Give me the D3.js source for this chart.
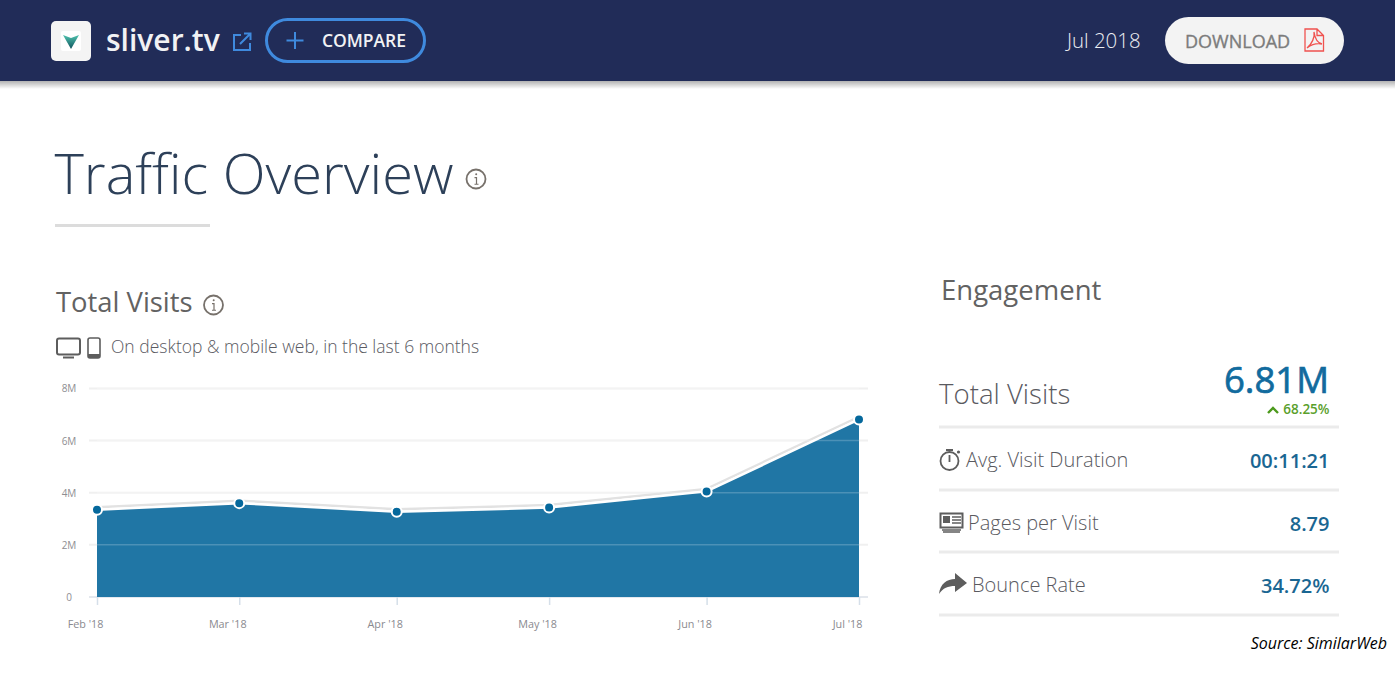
<!DOCTYPE html>
<html>
<head>
<meta charset="utf-8">
<script src="https://cdn.jsdelivr.net/npm/d3@7"></script>
<style>
  html, body { margin: 0; padding: 0; background: #fff; overflow: hidden; }
  text { font-family: "Open Sans", sans-serif; }
</style>
</head>
<body>
<div id="chart"></div>
<script>
// chart data
var months = ["2018-02-01", "2018-03-01", "2018-04-01", "2018-05-01", "2018-06-01", "2018-07-01"];
var visits = [3.35, 3.6, 3.27, 3.43, 4.05, 6.81];
var yTicks = [0, 2, 4, 6, 8];

// engagement table
var rowLabels = ["Avg. Visit Duration", "Pages per Visit", "Bounce Rate"];
var rowValues = ["00:11:21", "8.79", "34.72%"];

var svgWidth = 1395;
var svgHeight = 675;

var parseDate = d3.timeParse("%Y-%m-%d");
var dates = months.map(parseDate);

var svg = d3.select("#chart").append("svg")
  .attr("width", svgWidth)
  .attr("height", svgHeight)
  .style("display", "block");

var defs = svg.append("defs");

var headerShadow = defs.append("linearGradient")
  .attr("id", "headerShadow")
  .attr("x1", 0).attr("y1", 0).attr("x2", 0).attr("y2", 1);
headerShadow.append("stop").attr("offset", "0%").attr("stop-color", "#000").attr("stop-opacity", 0.3);
headerShadow.append("stop").attr("offset", "100%").attr("stop-color", "#000").attr("stop-opacity", 0);

var logoGrad = defs.append("linearGradient")
  .attr("id", "logoGrad")
  .attr("x1", 0).attr("y1", 0).attr("x2", 0).attr("y2", 1);
logoGrad.append("stop").attr("offset", "0%").attr("stop-color", "#4fc3ae");
logoGrad.append("stop").attr("offset", "100%").attr("stop-color", "#11535e");

// header band
svg.append("rect").attr("x", 0).attr("y", 81).attr("width", svgWidth).attr("height", 8)
  .attr("fill", "url(#headerShadow)");
svg.append("rect").attr("x", 0).attr("y", 0).attr("width", svgWidth).attr("height", 81)
  .attr("fill", "#212c58");

// logo
svg.append("rect").attr("x", 51).attr("y", 21).attr("width", 40).attr("height", 40).attr("rx", 5)
  .attr("fill", "#f4f4f4");
svg.append("rect").attr("x", 61).attr("y", 31).attr("width", 20).attr("height", 20).attr("rx", 2)
  .attr("fill", "#fff");
svg.append("path").attr("d", "M63,35 L71,38 L79,35 L71,49 Z").attr("fill", "url(#logoGrad)");

svg.append("text").attr("x", 106).attr("y", 51)
  .attr("font-size", 30).attr("font-weight", 600).attr("fill", "#f1f2f4")
  .text("sliver.tv");

// external link icon
svg.append("path")
  .attr("d", "M241,35 L234,35 L234,50 L250,50 L250,43 M240,44 L250,34 M244,33.5 L250.5,33.5 L250.5,40")
  .attr("fill", "none").attr("stroke", "#3f8ade").attr("stroke-width", 2);

// compare button
svg.append("rect").attr("x", 266.5).attr("y", 19.5).attr("width", 158).attr("height", 42).attr("rx", 21)
  .attr("fill", "none").attr("stroke", "#3f8ade").attr("stroke-width", 3);
svg.append("path").attr("d", "M295,32 L295,49 M286.5,40.5 L303.5,40.5")
  .attr("fill", "none").attr("stroke", "#3f8ade").attr("stroke-width", 2);
svg.append("text").attr("x", 322).attr("y", 47)
  .attr("font-size", 17.5).attr("font-weight", 600).attr("fill", "#f1f2f4").attr("letter-spacing", -0.05)
  .text("COMPARE");

svg.append("text").attr("x", 1067).attr("y", 48)
  .attr("font-size", 20.4).attr("font-weight", 300).attr("fill", "#eceef2")
  .text("Jul 2018");

// download button
svg.append("rect").attr("x", 1165).attr("y", 17).attr("width", 179).attr("height", 47).attr("rx", 23.5)
  .attr("fill", "#f3f3f3");
svg.append("text").attr("x", 1185).attr("y", 48)
  .attr("font-size", 18).attr("font-weight", 400).attr("fill", "#7c7c7c")
  .attr("stroke", "#7c7c7c").attr("stroke-width", 0.35)
  .text("DOWNLOAD");
svg.append("path")
  .attr("d", "M1305,29 L1317,29 L1323.5,35.5 L1323.5,51 L1305,51 Z M1317,29 L1317,35.5 L1323.5,35.5 M1307,48 C1312,44 1315,37 1314,32 C1315,39 1318,43 1322,44 C1317,43 1311,45 1307,48")
  .attr("fill", "none").attr("stroke", "#f0524f").attr("stroke-width", 1.3);

// page title
svg.append("text").attr("x", 54.5).attr("y", 194)
  .attr("font-size", 56).attr("font-weight", 300).attr("fill", "#2d4059")
  .text("Traffic Overview");

function infoIcon(cx, cy, r) {
  var g = svg.append("g").attr("transform", `translate(${cx}, ${cy})`);
  g.append("circle").attr("r", r).attr("fill", "none").attr("stroke", "#77716b").attr("stroke-width", 1.8);
  g.append("path").attr("d", `M-1.5,${-r * 0.15} L0.5,${-r * 0.15} L0.5,${r * 0.55} M-1.5,${r * 0.55} L2.5,${r * 0.55}`)
    .attr("fill", "none").attr("stroke", "#77716b").attr("stroke-width", 1.2);
  g.append("circle").attr("cx", 0.2).attr("cy", -r * 0.5).attr("r", 1).attr("fill", "#77716b");
}

infoIcon(476, 179, 9.5);
svg.append("rect").attr("x", 55).attr("y", 224).attr("width", 155).attr("height", 3).attr("fill", "#dcdcdc");

// total visits heading
svg.append("text").attr("x", 56).attr("y", 312)
  .attr("font-size", 27.4).attr("font-weight", 400).attr("fill", "#626262")
  .text("Total Visits");
infoIcon(213.5, 305, 9.5);

// device icons
svg.append("rect").attr("x", 57).attr("y", 338.5).attr("width", 23).attr("height", 16).attr("rx", 2)
  .attr("fill", "none").attr("stroke", "#5d5d5d").attr("stroke-width", 2);
svg.append("path").attr("d", "M63,357.5 L74,357.5").attr("stroke", "#5d5d5d").attr("stroke-width", 2);
svg.append("rect").attr("x", 88).attr("y", 338).attr("width", 12).attr("height", 20).attr("rx", 2)
  .attr("fill", "none").attr("stroke", "#5d5d5d").attr("stroke-width", 1.6);
svg.append("rect").attr("x", 88).attr("y", 354).attr("width", 12).attr("height", 4).attr("fill", "#5d5d5d");

svg.append("text").attr("x", 111).attr("y", 353)
  .attr("font-size", 17.5).attr("font-weight", 300).attr("fill", "#5a5a62")
  .text("On desktop & mobile web, in the last 6 months");

// scales
var xScale = d3.scaleTime()
  .domain(d3.extent(dates))
  .range([97, 859]);

var yScale = d3.scaleLinear()
  .domain([0, 8])
  .range([597, 388.4]);

var area = d3.area()
  .x((d, i) => xScale(dates[i]))
  .y0(yScale(0))
  .y1(d => yScale(d));

var line = d3.line()
  .x((d, i) => xScale(dates[i]))
  .y(d => yScale(d));

// light grid sits under the area, white overlay brings it through the fill
svg.append("g").selectAll("line")
  .data(yTicks)
  .enter()
  .append("line")
  .attr("x1", 89).attr("x2", 868)
  .attr("y1", d => yScale(d)).attr("y2", d => yScale(d))
  .attr("stroke", d => d === 0 ? "#e4e8ee" : "#f0f0f0")
  .attr("stroke-width", 2);

svg.append("path").datum(visits)
  .attr("d", line)
  .attr("transform", "translate(0, -2.5)")
  .attr("fill", "none").attr("stroke", "#e2e2e2").attr("stroke-width", 2.5);

svg.append("path").datum(visits)
  .attr("d", area)
  .attr("fill", "#2076a5");

svg.append("g").selectAll("line")
  .data(yTicks.filter(d => d > 0))
  .enter()
  .append("line")
  .attr("x1", 97).attr("x2", 859)
  .attr("y1", d => yScale(d)).attr("y2", d => yScale(d))
  .attr("stroke", "#ffffff").attr("stroke-opacity", 0.2)
  .attr("stroke-width", 1.5);

var leftAxis = d3.axisLeft(yScale)
  .tickValues(yTicks)
  .tickSize(0)
  .tickFormat(d => d === 0 ? "0" : d + "M");

var yAxis = svg.append("g")
  .attr("transform", "translate(89, 0)")
  .call(leftAxis);
yAxis.select(".domain").remove();
yAxis.selectAll(".tick line").remove();
yAxis.selectAll("text")
  .attr("x", -20)
  .attr("text-anchor", "middle")
  .attr("dy", "0.35em")
  .attr("font-size", 10).attr("fill", "#8e8e92").attr("font-family", "'Open Sans', sans-serif");

var bottomAxis = d3.axisBottom(xScale)
  .tickValues(dates)
  .tickSize(8)
  .tickPadding(15)
  .tickFormat(d3.timeFormat("%b '%y"));

var xAxis = svg.append("g")
  .attr("transform", "translate(0, 597)")
  .call(bottomAxis);
xAxis.select(".domain").remove();
xAxis.selectAll(".tick line").attr("stroke", "#d5dfe9").attr("stroke-width", 1.5);
xAxis.selectAll("text")
  .attr("dx", -12)
  .attr("font-size", 10.8).attr("fill", "#8a8a8f").attr("font-family", "'Open Sans', sans-serif");

svg.append("path").datum(visits)
  .attr("d", line)
  .attr("fill", "none").attr("stroke", "#ffffff").attr("stroke-width", 2.5);

svg.append("g").selectAll("circle")
  .data(visits)
  .enter()
  .append("circle")
  .attr("cx", (d, i) => xScale(dates[i]))
  .attr("cy", d => yScale(d))
  .attr("r", 5)
  .attr("fill", "#05689c")
  .attr("stroke", "#fff")
  .attr("stroke-width", 2);

// engagement panel
svg.append("text").attr("x", 941).attr("y", 300)
  .attr("font-size", 27.5).attr("font-weight", 400).attr("fill", "#626262")
  .text("Engagement");

svg.append("text").attr("x", 939).attr("y", 404)
  .attr("font-size", 27.6).attr("font-weight", 300).attr("fill", "#5a5a5f")
  .text("Total Visits");

svg.append("text").attr("x", 1329).attr("y", 393).attr("text-anchor", "end")
  .attr("font-size", 36.5).attr("font-weight", 400).attr("fill", "#116b9e")
  .attr("stroke", "#116b9e").attr("stroke-width", 0.7)
  .text("6.81M");

svg.append("path").attr("d", "M1268,413 L1273,408 L1278,413")
  .attr("fill", "none").attr("stroke", "#4c9a1c").attr("stroke-width", 2.4);
svg.append("text").attr("x", 1329.5).attr("y", 414).attr("text-anchor", "end")
  .attr("font-size", 13.5).attr("font-weight", 600).attr("fill", "#5aa02c")
  .text("68.25%");

var ruleY = [427, 490, 552, 615];
svg.append("g").selectAll("rect")
  .data(ruleY)
  .enter()
  .append("rect")
  .attr("x", 939).attr("width", 400)
  .attr("y", d => d - 1.5).attr("height", 3)
  .attr("fill", "#ebebeb");

var rowBase = [467, 530, 592];
var rowLabelX = [966, 968, 972];

svg.append("g").selectAll("text")
  .data(rowLabels)
  .enter()
  .append("text")
  .attr("x", (d, i) => rowLabelX[i])
  .attr("y", (d, i) => rowBase[i])
  .attr("font-size", 20).attr("font-weight", 300).attr("fill", "#5a5a5f")
  .text(d => d);

svg.append("g").selectAll("text")
  .data(rowValues)
  .enter()
  .append("text")
  .attr("x", 1329.5)
  .attr("y", (d, i) => rowBase[i] + 1)
  .attr("text-anchor", "end")
  .attr("font-size", 20).attr("font-weight", 600).attr("fill", "#1a6692")
  .text(d => d);

// stopwatch icon
svg.append("circle").attr("cx", 949.5).attr("cy", 461).attr("r", 9)
  .attr("fill", "none").attr("stroke", "#5d5d5d").attr("stroke-width", 1.8);
svg.append("path").attr("d", "M946,450 L953,450 M949.5,455 L949.5,462")
  .attr("fill", "none").attr("stroke", "#5d5d5d").attr("stroke-width", 1.8);
svg.append("circle").attr("cx", 958.5).attr("cy", 452).attr("r", 1.6).attr("fill", "#5d5d5d");

// newspaper icon
svg.append("rect").attr("x", 940.5).attr("y", 513.5).attr("width", 22).attr("height", 14)
  .attr("fill", "none").attr("stroke", "#5d5d5d").attr("stroke-width", 2);
svg.append("rect").attr("x", 943).attr("y", 516).attr("width", 7).attr("height", 7).attr("fill", "#5d5d5d");
svg.append("path").attr("d", "M952,517 L961,517 M952,520 L961,520 M952,523 L961,523 M942,530 L961,530 M943,532 L960,532")
  .attr("fill", "none").attr("stroke", "#5d5d5d").attr("stroke-width", 1.5);

// share arrow icon
svg.append("path")
  .attr("d", "M939,594 C940,584 947,579 955,579 L955,573 L967,583 L955,592 L955,586 C948,586 943,588 939,594 Z")
  .attr("fill", "#5d5d5d");

svg.append("text").attr("x", 1387).attr("y", 649).attr("text-anchor", "end")
  .style("font-family", "'Open Sans', sans-serif")
  .attr("font-size", 16).attr("font-style", "italic").attr("fill", "#000")
  .text("Source: SimilarWeb");
</script>
</body>
</html>
